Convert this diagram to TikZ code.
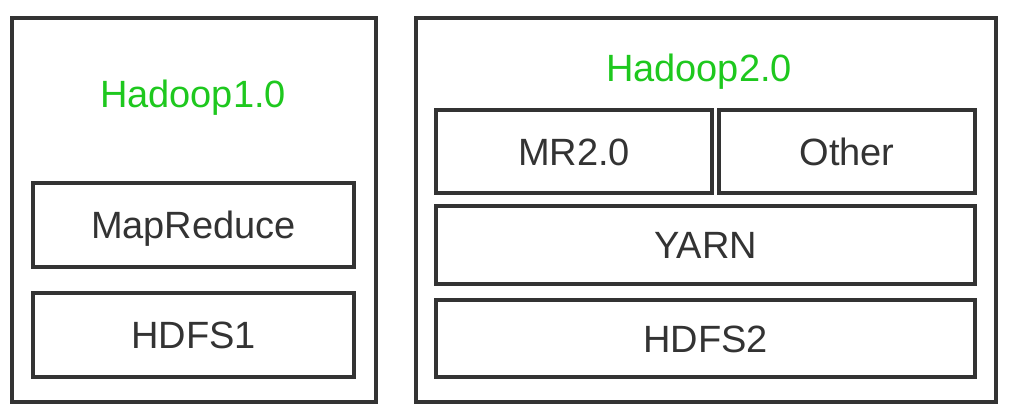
\documentclass[tikz,border=0pt]{standalone}
\usepackage{fontspec}
\setmainfont{Liberation Sans}
\definecolor{ink}{HTML}{333333}
\definecolor{hgreen}{HTML}{1EC81E}
\begin{document}
\begin{tikzpicture}[x=1pt,y=-1pt,
  frame/.style={draw=ink, line width=3.5pt, inner sep=0pt},
  layer/.style={draw=ink, line width=3.5pt, inner sep=0pt, text=ink,
    font=\fontsize{38}{44}\selectfont, text height=27.5pt, text depth=0pt},
  title/.style={inner sep=0pt, text=hgreen,
    font=\fontsize{38}{44}\selectfont, text height=27.5pt, text depth=0pt}]
\useasboundingbox (0,0) rectangle (1010,416);
% Hadoop 1.0
\node[frame, minimum width=364pt, minimum height=384pt] (h1) at (194,210) {};
\node[title] (t1) at (193,94) {Hadoop1.0};
\node[layer, minimum width=321pt, minimum height=84pt] (mapreduce) at (193.5,225) {MapReduce};
\node[layer, minimum width=321pt, minimum height=84pt] (hdfs1) at (193.5,335) {HDFS1};
% Hadoop 2.0
\node[frame, minimum width=580pt, minimum height=384pt] (h2) at (706,210) {};
\node[title] (t2) at (699,68) {Hadoop2.0};
\node[layer, minimum width=276pt, minimum height=83pt] (mr2) at (574,151.5) {MR2.0};
\node[layer, minimum width=256pt, minimum height=83pt] (other) at (847,151.5) {Other};
\node[layer, minimum width=539pt, minimum height=78pt] (yarn) at (705.5,245) {YARN};
\node[layer, minimum width=539pt, minimum height=77pt] (hdfs2) at (705.5,338.5) {HDFS2};
\end{tikzpicture}
\end{document}
